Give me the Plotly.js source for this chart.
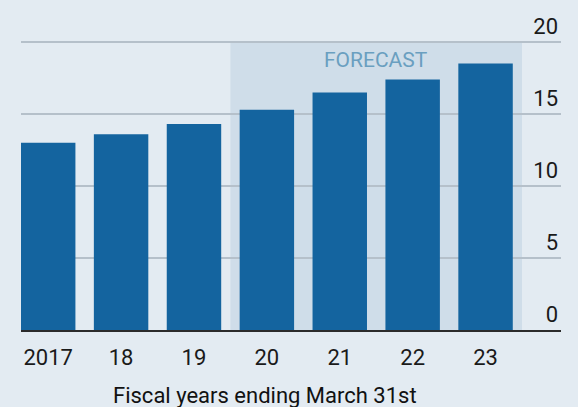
<!DOCTYPE html>
<html>
<head>
<meta charset="utf-8">
<script src="https://cdn.plot.ly/plotly-3.0.1.min.js"></script>
<style>
html,body{margin:0;padding:0;background:#e3ebf2;}
#chart{width:578px;height:407px;}
</style>
</head>
<body>
<div id="chart"></div>
<script>
var years = ['2017', '18', '19', '20', '21', '22', '23'];
var values = [13.0, 13.6, 14.3, 15.3, 16.5, 17.4, 18.5];
var yTicks = [0, 5, 10, 15, 20];
var yTickLabels = ['0', '5', '10', '15', '20'];
var forecastStart = 2.5;
var forecastEnd = 6.5;
var forecastLabel = 'FORECAST';
var xAxisLabel = 'Fiscal years ending March 31st';

var FONT = 'Roboto, "Open Sans", sans-serif';

var data = [{
  type: 'bar',
  x: years,
  y: values,
  marker: {color: '#14649f'},
  hoverinfo: 'x+y'
}];

var layout = {
  width: 578,
  height: 407,
  margin: {l: 21, r: 17, t: 10, b: 76.5, pad: 0},
  paper_bgcolor: '#e3ebf2',
  plot_bgcolor: '#e3ebf2',
  showlegend: false,
  bargap: 0.253,
  font: {family: FONT, color: '#1a1a1a', size: 22},
  xaxis: {
    type: 'category',
    range: [-0.373, 7.035],
    showgrid: false,
    zeroline: false,
    showline: true,
    linecolor: '#2b2b2b',
    linewidth: 1.5,
    ticks: '',
    ticklabelstandoff: 7,
    tickfont: {family: FONT, size: 22, color: '#1a1a1a'},
    fixedrange: true
  },
  yaxis: {
    side: 'right',
    range: [0, 22.22],
    tickvals: yTicks,
    ticktext: yTickLabels,
    ticklabelposition: 'inside top',
    showgrid: true,
    gridcolor: '#b5c0ca',
    gridwidth: 1.2,
    zeroline: false,
    showline: false,
    ticks: '',
    tickfont: {family: FONT, size: 22, color: '#1a1a1a'},
    fixedrange: true
  },
  shapes: [{
    type: 'rect',
    xref: 'x', yref: 'y',
    x0: forecastStart, x1: forecastEnd,
    y0: 0, y1: 20,
    fillcolor: '#cfdde9',
    line: {width: 0},
    layer: 'below'
  }],
  annotations: [{
    xref: 'x', yref: 'y',
    x: (forecastStart + forecastEnd) / 2,
    y: 18.75,
    text: forecastLabel,
    showarrow: false,
    xanchor: 'center', yanchor: 'middle',
    font: {family: FONT, size: 21, color: '#6a9fc0'}
  }, {
    xref: 'x', yref: 'paper',
    x: 2.97,
    y: -0.158,
    text: xAxisLabel,
    showarrow: false,
    xanchor: 'center', yanchor: 'top',
    font: {family: FONT, size: 22, color: '#111111'}
  }]
};

Plotly.newPlot('chart', data, layout, {displayModeBar: false, staticPlot: true});
</script>
</body>
</html>
